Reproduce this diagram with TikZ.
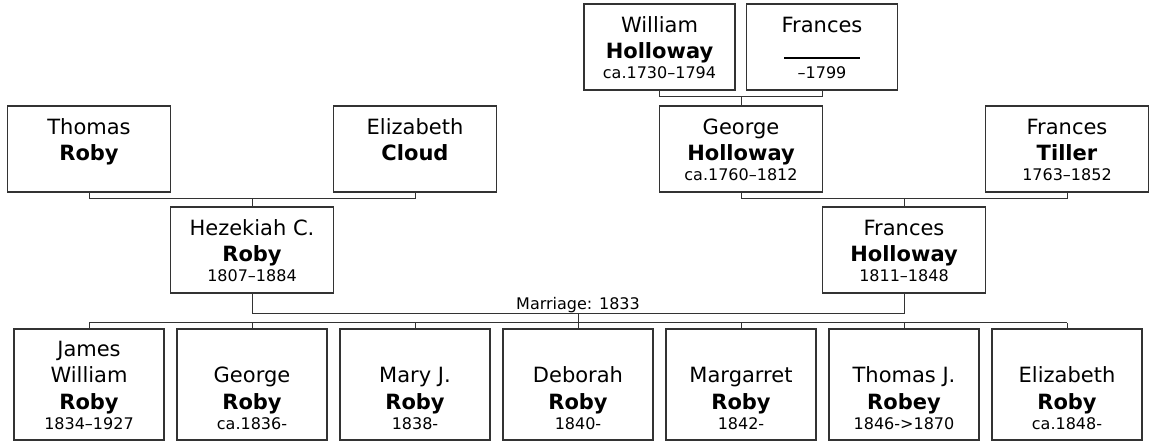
\documentclass[tikz,border=0pt]{standalone}
\usepackage{fontspec}
\setmainfont{DejaVu Sans}
\usetikzlibrary{positioning}
\usetikzlibrary{calc}

\newcommand{\namefont}{\fontsize{21}{26.5}\selectfont}
\newcommand{\yearfont}{\fontsize{16}{19}\selectfont}
% person text, set from the bottom of the box upwards
\newcommand{\who}[3][64pt]{\vbox to #1{\hsize=144pt\parindent=0pt\parskip=0pt
  \vss\centering\namefont #2\\[-6.5pt]{\yearfont\leavevmode\vphantom{1}#3}\par}}

\begin{document}
\begin{tikzpicture}[x=1pt, y=-1pt,
    anc/.style={draw=black!80, line width=1.3pt, minimum width=163pt, inner xsep=0pt, inner ysep=11pt},
    eld/.style={anc, minimum width=151pt},
    kid/.style={anc, minimum width=150pt, inner ysep=10.5pt},
    kin/.style={draw=black!80, line width=1pt}]
        \useasboundingbox (0,0) rectangle (1152,443);

        % grandparents
        \node[eld] (wh) at (659.5,47) {\who{William\\\textbf{Holloway}}{ca.1730–1794}};
        \node[eld] (fr) at (822,47) {\who{Frances\\\rule{76pt}{2pt}}{–1799}};

        \node[anc] (tr) at (89,149) {\who{Thomas\\\textbf{Roby}}{}};
        \node[anc] (ec) at (415,149) {\who{Elizabeth\\\textbf{Cloud}}{}};
        \node[anc] (gh) at (741,149) {\who{George\\\textbf{Holloway}}{ca.1760–1812}};
        \node[anc] (ft) at (1067,149) {\who{Frances\\\textbf{Tiller}}{1763–1852}};

        % couple
        \node[anc] (hr) at (252,250) {\who{Hezekiah C.\\\textbf{Roby}}{1807–1884}};
        \node[anc] (fh) at (904,250) {\who{Frances\\\textbf{Holloway}}{1811–1848}};

        % children
        \node[kid] (c1) at (89,384.5) {\who[90pt]{James\\William\\\textbf{Roby}}{1834–1927}};
        \node[kid] (c2) at (252,384.5) {\who[90pt]{George\\\textbf{Roby}}{ca.1836-}};
        \node[kid] (c3) at (415,384.5) {\who[90pt]{Mary J.\\\textbf{Roby}}{1838-}};
        \node[kid] (c4) at (578,384.5) {\who[90pt]{Deborah\\\textbf{Roby}}{1840-}};
        \node[kid] (c5) at (741,384.5) {\who[90pt]{Margarret\\\textbf{Roby}}{1842-}};
        \node[kid] (c6) at (904,384.5) {\who[90pt]{Thomas J.\\\textbf{Robey}}{1846->1870}};
        \node[kid] (c7) at (1067,384.5) {\who[90pt]{Elizabeth\\\textbf{Roby}}{ca.1848-}};

        \coordinate (hj) at ($(gh.north)+(0,-9)$);
        \coordinate (rj) at ($(hr.north)+(0,-8)$);
        \coordinate (tj) at ($(fh.north)+(0,-8)$);
        \coordinate (wed) at ($(hr.south)!.5!(fh.south)+(0,20)$);
        \coordinate (kids) at ($(wed)+(0,9)$);

        \draw[kin] (wh.south) |- (hj) -| (fr.south) (hj) -- (gh.north);
        \draw[kin] (tr.south) |- (rj) -| (ec.south) (rj) -- (hr.north);
        \draw[kin] (gh.south) |- (tj) -| (ft.south) (tj) -- (fh.north);
        \draw[kin] (hr.south) |- (wed) -| (fh.south) (wed) -- (kids);
        \node[anchor=base, inner sep=0pt, font=\yearfont] (mar) at ($(wed)+(0,-4.5)$) {Marriage: 1833};

        \draw[kin] (c1.north |- kids) -- (c7.north |- kids);
        \foreach \k in {1,...,7}
            \draw[kin] (c\k.north |- kids) -- (c\k.north);
\end{tikzpicture}
\end{document}
